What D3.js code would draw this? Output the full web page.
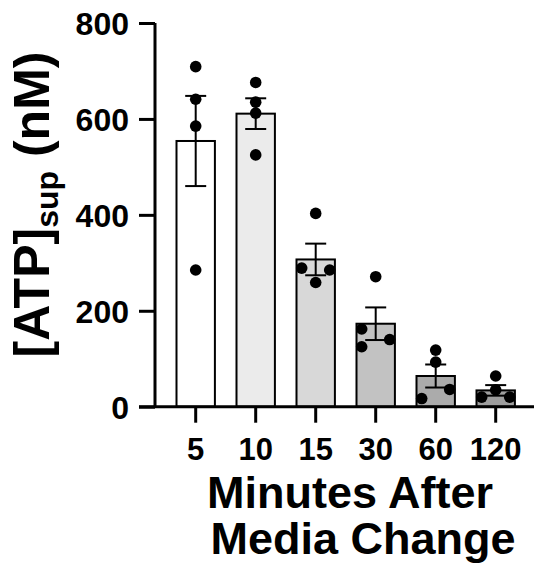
<!DOCTYPE html>
<html>
<head>
<meta charset="utf-8">
<script src="https://cdn.jsdelivr.net/npm/d3@7"></script>
<style>
  html, body { margin: 0; padding: 0; background: #fff; }
  #chart { width: 534px; height: 571px; }
  text { font-family: "Liberation Sans", Arial, sans-serif; font-weight: bold; fill: #000; }
</style>
</head>
<body>
<div id="chart"></div>
<script>
// data
const categories = ['5', '10', '15', '30', '60', '120'];
const means  = [554, 611, 307, 173, 64, 34];
const sems   = [94, 32, 33, 34, 24, 11];
const points = [
  [709, 641, 585, 285],
  [676, 635, 612, 525],
  [403, 289, 285, 259],
  [271, 162, 140, 125],
  [118, 93, 36, 17],
  [64, 35, 20, 20]
];
// column slot of each dot in the scatter (-1 left, 0 centre, 1 right)
const slots = [
  [0, 0, 0, 0],
  [0, 0, 0, 0],
  [0, -1, 1, 0],
  [0, -1, 1, -1],
  [0, 0, 1, -1],
  [0, 0, -1, 1]
];
const fills = ['#ffffff', '#ebebeb', '#d8d8d8', '#c2c2c2', '#ababab', '#9e9e9e'];
const yTicks = [0, 200, 400, 600, 800];

function drawBars(containerId) {
  const container = d3.select(containerId);
  const width = 534, height = 571;

  const svg = container.append('svg')
      .attr('width', width)
      .attr('height', height);

  // Scales
  const x = d3.scaleBand()
    .domain(categories)
    .range([165.7, 525.7])
    .paddingInner(0.36)
    .paddingOuter(0.18);

  const y = d3.scaleLinear()
    .domain([0, 800])
    .range([406.7, 23]);

  const jitter = d3.scaleLinear().domain([-1, 1]).range([-14, 14]);

  const rows = categories.map((c, i) => ({
    key: c, mean: means[i], sem: sems[i], fill: fills[i],
    pts: points[i].map((v, j) => ({ key: c, val: v, slot: slots[i][j] }))
  }));

  // Bars
  svg.append('g').selectAll('rect')
    .data(rows)
    .join('rect')
      .attr('x', d => x(d.key))
      .attr('y', d => y(d.mean))
      .attr('width', x.bandwidth())
      .attr('height', d => y(0) - y(d.mean))
      .attr('fill', d => d.fill)
      .attr('stroke', '#000')
      .attr('stroke-width', 2);

  // Error bars
  const cap = 10.5;
  const eb = svg.append('g')
    .attr('stroke', '#000')
    .attr('stroke-width', 2)
    .selectAll('g')
    .data(rows)
    .join('g')
      .attr('transform', d => `translate(${x(d.key) + x.bandwidth() / 2},0)`);
  eb.append('line')
    .attr('y1', d => y(d.mean - d.sem))
    .attr('y2', d => y(d.mean + d.sem));
  eb.append('line')
    .attr('x1', -cap).attr('x2', cap)
    .attr('y1', d => y(d.mean + d.sem))
    .attr('y2', d => y(d.mean + d.sem));
  eb.append('line')
    .attr('x1', -cap).attr('x2', cap)
    .attr('y1', d => y(d.mean - d.sem))
    .attr('y2', d => y(d.mean - d.sem));

  // Dots
  svg.append('g').selectAll('circle')
    .data(rows.flatMap(d => d.pts))
    .join('circle')
      .attr('cx', d => x(d.key) + x.bandwidth() / 2 + jitter(d.slot))
      .attr('cy', d => y(d.val))
      .attr('r', 5.8)
      .attr('fill', '#000');

  // Y axis
  const yAxis = svg.append('g')
    .attr('transform', 'translate(155,0)')
    .call(d3.axisLeft(y).tickValues(yTicks).tickSize(16).tickPadding(10));
  yAxis.select('.domain').attr('d', `M0,${y(800)}V${y(0)}`);
  yAxis.selectAll('path, line').attr('stroke', '#000').attr('stroke-width', 3);
  yAxis.selectAll('text')
    .style('font-size', '32px')
    .attr('dy', '0.36em');

  // X axis
  const xAxis = svg.append('g')
    .attr('transform', `translate(0,${y(0)})`)
    .call(d3.axisBottom(x).tickSize(16).tickPadding(15));
  xAxis.select('.domain').attr('d', 'M139,0H534');
  xAxis.selectAll('path, line').attr('stroke', '#000').attr('stroke-width', 3);
  xAxis.selectAll('text')
    .style('font-size', '31px')
    .attr('dy', '0.72em');

  // Axis titles
  svg.append('text')
    .attr('x', 350).attr('y', 508)
    .attr('text-anchor', 'middle')
    .style('font-size', '45px')
    .text('Minutes After');
  svg.append('text')
    .attr('x', 363).attr('y', 554)
    .attr('text-anchor', 'middle')
    .style('font-size', '45px')
    .text('Media Change');

  const yt = svg.append('text')
    .attr('transform', 'translate(49,204.5) rotate(-90)')
    .attr('text-anchor', 'middle')
    .style('font-size', '50px');
  yt.append('tspan').text('[ATP]');
  yt.append('tspan').attr('dy', 9).style('font-size', '32px').text('sup');
  yt.append('tspan').attr('dy', -9).text(' (nM)');
}

drawBars('#chart');
</script>
</body>
</html>
